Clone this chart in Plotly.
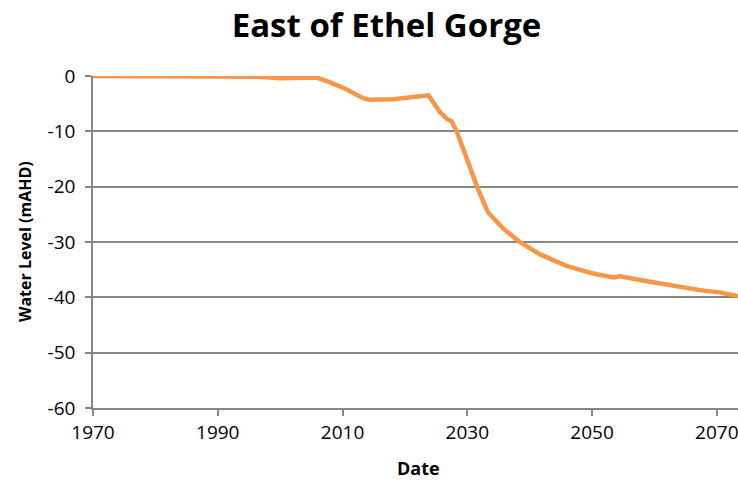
import plotly.graph_objects as go

# Modelled groundwater level east of Ethel Gorge
years = [1970.0, 1980.0, 1990.0, 1996.7, 1999.9, 2003.0, 2005.8, 2007.9,
         2010.6, 2013.3, 2014.3, 2018.1, 2020.8, 2023.2, 2023.8, 2025.0,
         2025.6, 2026.7, 2027.5, 2028.3, 2029.3, 2030.4, 2031.7, 2033.3,
         2035.7, 2038.4, 2041.6, 2045.9, 2050.2, 2053.4, 2054.5, 2058.8,
         2064.1, 2067.3, 2070.5, 2073.4]
water_level = [0.0, 0.0, -0.05, -0.15, -0.4, -0.35, -0.25, -1.1,
               -2.4, -4.0, -4.3, -4.2, -3.8, -3.4, -3.5, -5.5,
               -6.5, -7.7, -8.2, -10.0, -13.0, -16.5, -20.4, -24.6,
               -27.5, -30.0, -32.2, -34.3, -35.7, -36.4, -36.2, -37.1,
               -38.2, -38.7, -39.1, -39.8]

x_ticks = [1970, 1990, 2010, 2030, 2050, 2070]
y_ticks = [0, -10, -20, -30, -40, -50, -60]

FONT = "Open Sans, Calibri, sans-serif"
GREY = "#868686"

fig = go.Figure(
    go.Scatter(
        x=years,
        y=water_level,
        mode="lines",
        line=dict(color="#F79646", width=4.5),
        hoverinfo="x+y",
    )
)

fig.update_layout(
    width=738,
    height=483,
    margin=dict(l=93, r=0, t=76, b=75),
    paper_bgcolor="white",
    plot_bgcolor="white",
    showlegend=False,
    font=dict(family=FONT, color="black", size=18),
    title=dict(
        text="<b>East of Ethel Gorge</b>",
        x=0.5237,
        xanchor="center",
        y=0.948,
        yanchor="middle",
        font=dict(family=FONT, size=33, color="black"),
    ),
    annotations=[
        dict(
            text="<b>Date</b>",
            xref="paper", yref="paper",
            x=0.504, y=-0.181,
            xanchor="center", yanchor="middle",
            showarrow=False,
            font=dict(family=FONT, size=18, color="black"),
        ),
        dict(
            text="<b>Water Level (mAHD)</b>",
            xref="paper", yref="paper",
            x=-0.1054, y=0.5,
            xanchor="center", yanchor="middle",
            textangle=-90,
            showarrow=False,
            font=dict(family=FONT, size=16, color="black"),
        ),
    ],
)

fig.update_xaxes(
    range=[1970, 2073.4],
    tickvals=x_ticks,
    ticktext=[str(v) for v in x_ticks],
    showgrid=False,
    zeroline=False,
    showline=True,
    linecolor=GREY,
    linewidth=1.5,
    ticks="outside",
    ticklen=6,
    tickcolor=GREY,
    tickwidth=1.5,
    tickfont=dict(size=19),
    ticklabeloverflow="allow",
)

fig.update_yaxes(
    range=[-60, 0],
    tickvals=y_ticks,
    ticktext=[str(v) for v in y_ticks],
    showgrid=True,
    gridcolor=GREY,
    gridwidth=1.5,
    zeroline=False,
    showline=True,
    linecolor=GREY,
    linewidth=1.5,
    ticks="outside",
    ticklen=6,
    tickcolor=GREY,
    tickwidth=1.5,
    tickfont=dict(size=19),
    ticklabelstandoff=6,
)

fig.write_html("out.html")
